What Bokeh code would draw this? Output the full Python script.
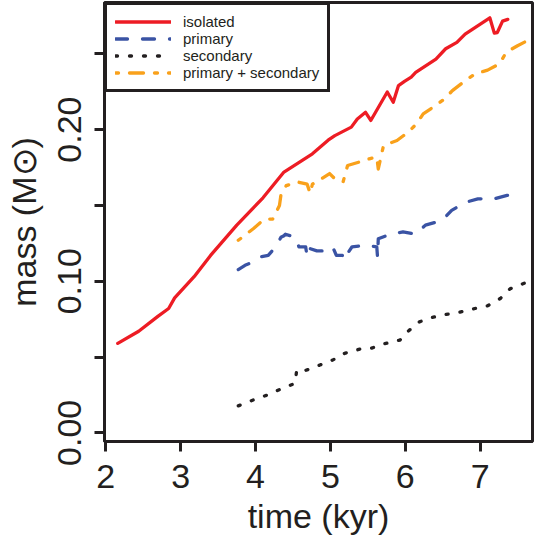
from bokeh.plotting import figure
from bokeh.models import FixedTicker, Range1d, Legend, LegendItem
from bokeh.embed import file_html
from bokeh.resources import INLINE

# ---- data (time in kyr, mass in Msun) ----
iso_t = [2.16, 2.44, 2.70, 2.84, 2.92, 3.18, 3.40, 3.75, 4.10, 4.38, 4.76, 4.97, 5.06, 5.28,
         5.36, 5.47, 5.54, 5.76, 5.84, 5.91, 5.99, 6.08, 6.14, 6.41, 6.54, 6.69, 6.80, 7.13,
         7.19, 7.23, 7.30, 7.37]
iso_m = [0.059, 0.067, 0.077, 0.082, 0.089, 0.103, 0.117, 0.137, 0.155, 0.172, 0.184, 0.193,
         0.196, 0.2016, 0.207, 0.2114, 0.206, 0.2248, 0.218, 0.229, 0.2318, 0.2346, 0.2377,
         0.2465, 0.2533, 0.2575, 0.263, 0.2737, 0.2636, 0.264, 0.2715, 0.2727]

pri_t = [3.77, 3.86, 3.97, 4.06, 4.17, 4.27, 4.34, 4.38, 4.40, 4.53, 4.58, 4.67, 4.69, 4.73,
         4.82, 4.92, 5.03, 5.08, 5.16, 5.17, 5.29, 5.47, 5.62, 5.63, 5.64, 5.80, 5.97, 6.14,
         6.27, 6.49, 6.62, 6.80, 6.97, 7.19, 7.36, 7.56]
pri_m = [0.1077, 0.1105, 0.1127, 0.116, 0.117, 0.1227, 0.129, 0.130, 0.131, 0.129, 0.1227,
         0.1227, 0.116, 0.1215, 0.120, 0.120, 0.1227, 0.117, 0.117, 0.114, 0.1227, 0.1237,
         0.1227, 0.116, 0.128, 0.131, 0.1325, 0.131, 0.137, 0.140, 0.1467, 0.152, 0.1543,
         0.1543, 0.1566, 0.1577]

sec_t = [3.77, 3.97, 4.16, 4.36, 4.53, 4.55, 4.66, 4.86, 5.03, 5.19, 5.40, 5.53, 5.71, 5.93,
         6.03, 6.19, 6.36, 6.53, 6.71, 6.93, 7.10, 7.27, 7.40, 7.60]
sec_m = [0.0178, 0.0217, 0.025, 0.0294, 0.0326, 0.0414, 0.041, 0.0447, 0.048, 0.0524, 0.0553,
         0.0555, 0.0586, 0.0612, 0.0667, 0.0732, 0.0761, 0.078, 0.0794, 0.082, 0.0838, 0.0886,
         0.095, 0.0989]

sum_t = [3.77, 3.97, 4.12, 4.23, 4.32, 4.34, 4.41, 4.56, 4.69, 4.73, 4.76, 4.88, 4.99, 5.05,
         5.17, 5.23, 5.38, 5.52, 5.62, 5.64, 5.71, 5.89, 6.04, 6.15, 6.24, 6.37, 6.52, 6.63,
         6.80, 6.93, 7.10, 7.26, 7.35, 7.50, 7.63]
sum_m = [0.127, 0.1346, 0.141, 0.141, 0.150, 0.157, 0.163, 0.1655, 0.164, 0.158, 0.164,
         0.1675, 0.171, 0.168, 0.1655, 0.1763, 0.1785, 0.1807, 0.182, 0.174, 0.1895, 0.1928,
         0.1983, 0.2037, 0.2104, 0.2147, 0.220, 0.2257, 0.2322, 0.2366, 0.2392, 0.2434, 0.251,
         0.2553, 0.2586]

x_ticks = [2, 3, 4, 5, 6, 7]
y_ticks = [0.0, 0.05, 0.10, 0.15, 0.20, 0.25]
y_tick_labels = {0.0: "0.00", 0.05: "", 0.10: "0.10", 0.15: "", 0.20: "0.20", 0.25: ""}

labels = ["isolated", "primary", "secondary", "primary + secondary"]
colors = ["#ED1C24", "#3A53A4", "#231F20", "#F9A11B"]
dashes = ["solid", "12 15", "2 12", "3 11 14 11"]

FONT = "Liberation Sans"
INK = "#231F20"

p = figure(width=535, height=537, output_backend="svg", toolbar_location=None,
           x_range=Range1d(1.983, 7.70), y_range=Range1d(-0.0057, 0.2838),
           min_border_left=104, min_border_right=3, min_border_top=2, min_border_bottom=95)

p.xgrid.visible = False
p.ygrid.visible = False
p.outline_line_color = INK
p.outline_line_width = 3
p.outline_line_alpha = 1.0

series = [(iso_t, iso_m), (pri_t, pri_m), (sec_t, sec_m), (sum_t, sum_m)]
renderers = []
for (t, m), c, d in zip(series, colors, dashes):
    r = p.line(t, m, line_color=c, line_width=3.3, line_dash=d,
               line_cap="round", line_join="round")
    renderers.append(r)

for ax in (p.xaxis[0], p.yaxis[0]):
    ax.axis_line_color = INK
    ax.axis_line_width = 3
    ax.major_tick_line_color = INK
    ax.major_tick_line_width = 3
    ax.major_tick_out = 10
    ax.major_tick_in = 0
    ax.minor_tick_line_color = None
    ax.major_label_text_font = FONT
    ax.major_label_text_font_size = "34px"
    ax.major_label_text_color = INK
    ax.axis_label_text_font = FONT
    ax.axis_label_text_font_size = "34px"
    ax.axis_label_text_font_style = "normal"
    ax.axis_label_text_color = INK

p.xaxis[0].major_label_standoff = 13
p.xaxis[0].axis_label_standoff = 6
p.yaxis[0].major_label_standoff = 13
p.yaxis[0].axis_label_standoff = 13

p.xaxis[0].ticker = FixedTicker(ticks=x_ticks)
p.yaxis[0].ticker = FixedTicker(ticks=y_ticks)
p.yaxis[0].major_label_overrides = y_tick_labels
p.yaxis[0].major_label_orientation = "vertical"
p.xaxis[0].axis_label = "time (kyr)"
p.yaxis[0].axis_label = "mass (M\u2299)"

legend = Legend(items=[LegendItem(label=l, renderers=[r]) for l, r in zip(labels, renderers)],
                location="top_left", margin=0, padding=8, spacing=0,
                glyph_width=56, glyph_height=17, label_height=17, label_standoff=12,
                label_text_font=FONT, label_text_font_size="15px", label_text_color=INK,
                border_line_color=INK, border_line_width=3, border_line_alpha=1.0,
                background_fill_color="white", background_fill_alpha=1.0)
p.add_layout(legend)

open("out.html", "w").write(file_html(p, INLINE))
